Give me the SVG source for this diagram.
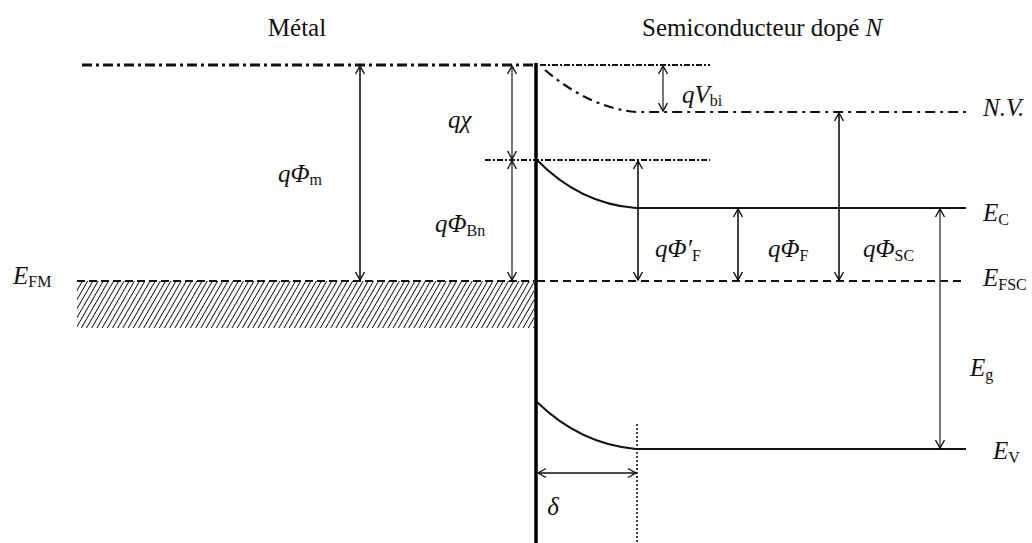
<svg xmlns="http://www.w3.org/2000/svg" width="1032" height="543" viewBox="0 0 1032 543">
<style>
text{font-family:"Liberation Serif","DejaVu Serif","Times New Roman",serif;fill:#111}
.t{font-size:25px}
.m{font-size:25px;font-style:italic}
.s{font-size:16px;font-style:normal}
.lvl{fill:none;stroke:#111}
.arr{fill:none;stroke:#111;stroke-width:1.6;marker-start:url(#ah);marker-end:url(#ah)}
.g{stroke:#555}
</style>
<defs>
<marker id="ah" viewBox="-10 -6 12 12" refX="0" refY="0" markerWidth="12" markerHeight="12" markerUnits="userSpaceOnUse" orient="auto-start-reverse">
<path d="M-8,-4.5 L0,0 L-8,4.5" fill="none" stroke="#111" stroke-width="1.4"/>
</marker>
<pattern id="hatch" patternUnits="userSpaceOnUse" width="4.5" height="5" patternTransform="rotate(30)">
<line x1="0" y1="0" x2="0" y2="5" stroke="#000" stroke-width="1.7"/>
</pattern>
</defs>

<g id="metal">
<rect x="77" y="281" width="457" height="47" fill="url(#hatch)"/>
<line class="lvl" x1="77" y1="281" x2="534" y2="281" stroke-width="2" stroke-dasharray="8 4"/>
<text class="t" x="297" y="36" text-anchor="middle">Métal</text>
<text class="m" x="13" y="284">E<tspan class="s" dy="3">FM</tspan></text>
</g>

<g id="vacuum">
<line class="lvl" x1="82" y1="65" x2="534" y2="65" stroke-width="3" stroke-dasharray="10 4 3 4"/>
<line class="lvl" x1="540" y1="65" x2="710" y2="65" stroke-width="2.2" stroke-dasharray="6 2 2 2"/>
<path class="lvl" d="M545,70 Q590,108 636,112 L966,112" stroke-width="2.2" stroke-dasharray="10 5 3 5"/>
<text class="m" x="983" y="116">N.V.</text>
</g>

<g id="semiconductor">
<text class="t" x="642" y="36">Semiconducteur dopé <tspan font-style="italic">N</tspan></text>
<line class="lvl" x1="485" y1="160" x2="710" y2="160" stroke-width="2" stroke-dasharray="6 2 2 2"/>
<path class="lvl" d="M537,160 Q580,204 636,208 L966,208" stroke-width="2"/>
<line class="lvl" x1="537" y1="281" x2="966" y2="281" stroke-width="2" stroke-dasharray="8 5"/>
<path class="lvl" d="M537,402 Q580,444 636,449 L966,449" stroke-width="2"/>
<line class="lvl" x1="637" y1="424" x2="637" y2="543" stroke-width="1.6" stroke-dasharray="2 2"/>
<text class="m" x="983" y="221">E<tspan class="s" dy="4">C</tspan></text>
<text class="m" x="983" y="286">E<tspan class="s" dy="4">FSC</tspan></text>
<text class="m" x="970" y="376">E<tspan class="s" dy="4">g</tspan></text>
<text class="m" x="993" y="459">E<tspan class="s" dy="4">V</tspan></text>
</g>

<g id="interface">
<line x1="536" y1="63" x2="536" y2="543" stroke="#000" stroke-width="3.5"/>
</g>

<g id="connectors">
<line class="arr" x1="360" y1="66" x2="360" y2="280" stroke-width="2"/>
<line class="arr g" x1="512" y1="66" x2="512" y2="159"/>
<line class="arr g" x1="512" y1="161" x2="512" y2="280"/>
<line class="arr g" x1="663" y1="66" x2="663" y2="111"/>
<line class="arr" x1="638" y1="161" x2="638" y2="280"/>
<line class="arr" x1="738" y1="209" x2="738" y2="280" stroke-width="2.6"/>
<line class="arr" x1="839" y1="113" x2="839" y2="280" stroke-width="2"/>
<line class="arr g" x1="940" y1="209" x2="940" y2="448"/>
<line class="arr" x1="538" y1="473" x2="636" y2="473" stroke-width="2"/>
</g>

<g id="labels">
<text class="m" x="448" y="128">qχ</text>
<text class="m" x="278" y="182">qΦ<tspan class="s" dy="3">m</tspan></text>
<text class="m" x="435" y="232">qΦ<tspan class="s" dy="4">Bn</tspan></text>
<text class="m" x="682" y="103">qV<tspan class="s" dy="3">bi</tspan></text>
<text class="m" x="655" y="257">qΦ′<tspan class="s" dy="4">F</tspan></text>
<text class="m" x="768" y="257">qΦ<tspan class="s" dy="4">F</tspan></text>
<text class="m" x="863" y="257">qΦ<tspan class="s" dy="4">SC</tspan></text>
<text class="m" x="553" y="515" text-anchor="middle">δ</text>
</g>
</svg>
